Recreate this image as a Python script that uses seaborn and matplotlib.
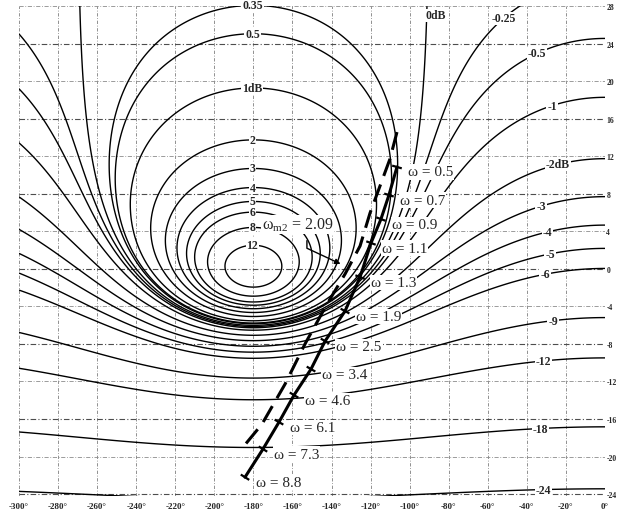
import numpy as np
import pandas as pd
import matplotlib
matplotlib.use("Agg")
import matplotlib.pyplot as plt
import seaborn as sns

sns.set_style("white")
plt.rcParams["font.family"] = ["Liberation Serif", "DejaVu Serif"]
plt.rcParams["mathtext.fontset"] = "custom"
plt.rcParams["mathtext.rm"] = "Liberation Serif"
plt.rcParams["mathtext.it"] = "Liberation Serif:italic"

# Nichols chart axes
phase_ticks = list(range(-300, 1, 20))
gain_ticks = list(range(-24, 29, 4))

# closed-loop magnitude contours (dB)
m_pos_levels = [0.35, 0.5, 1, 2, 3, 4, 5, 6, 8, 12]
m_pos_text = ["0.35", "0.5", "1dB", "2", "3", "4", "5", "6", "8", "12"]
m_neg_levels = [-0.25, -0.5, -1, -2, -3, -4, -5, -6, -9, -12, -18, -24]
m_neg_text = ["-0.25", "-0.5", "-1", "-2dB", "-3", "-4", "-5", "-6", "-9", "-12", "-18", "-24"]
m_neg_text_phase = [-52, -34.8, -27.1, -24.0, -32.7, -29.6, -28.1, -30.7, -26.6, -31.7, -33.2, -31.7]

# open-loop response with frequency marks (solid)
w_marks = [0.5, 0.7, 0.9, 1.1, 1.3, 1.9, 2.5, 3.4, 4.6, 6.1, 7.3, 8.8]
solid_phase = [-106.5, -110.6, -114.7, -119.8, -125.4, -133.1, -143.3, -150.5, -159.2, -166.9, -175.1, -184.3]
solid_gain = [10.85, 7.86, 5.30, 2.75, -0.88, -4.50, -7.70, -10.68, -13.45, -16.33, -19.20, -22.2]

# second response (dashed)
dashed_phase = [-106.5, -110.1, -115.2, -120.3, -125.4, -133.1, -142.3, -153.6, -163.8, -175.6, -185.3]
dashed_gain = [14.57, 11.70, 8.82, 5.94, 2.43, -0.56, -3.75, -8.01, -12.28, -16.54, -18.99]

# resonant frequency of the dashed response
w_m2 = 2.09
w_m2_point = (-134.1, 0.4)

XMIN, XMAX = -300, 0
YMIN, YMAX = -24.2, 28.0

W, H = 617, 510
fig = plt.figure(figsize=(W / 100, H / 100), dpi=100)
ax_left, ax_right, ax_top, ax_bottom = 19, 605, 7, 497
ax = fig.add_axes([ax_left / W, 1 - ax_bottom / H, (ax_right - ax_left) / W, (ax_bottom - ax_top) / H])
ax.set_xlim(XMIN, XMAX)
ax.set_ylim(YMIN, YMAX)
px_deg = (ax_right - ax_left) / (XMAX - XMIN)
px_db = (ax_bottom - ax_top) / (YMAX - YMIN)

# grid
for p in phase_ticks:
    ax.axvline(p, color="0.5", lw=0.6, ls=(0, (4, 2, 1, 2)), zorder=0)
for g in gain_ticks:
    strong = (g % 8 == 0)
    ax.axhline(g, color="0.3" if strong else "0.55", lw=0.8 if strong else 0.6,
               ls=(0, (5, 2, 1, 2)), zorder=0)

# M contours on the open-loop gain/phase plane
ph = np.linspace(-300.0, 0.0, 1501) + 0.013
gd = np.linspace(-26.0, 30.0, 1401) + 0.011
P, GD = np.meshgrid(ph, gd)
G = 10 ** (GD / 20) * np.exp(1j * np.radians(P))
with np.errstate(divide="ignore", invalid="ignore"):
    MDB = 20 * np.log10(np.abs(G / (1 + G)))
MDB = np.clip(np.nan_to_num(MDB, nan=60, posinf=60), -80, 60)
levels = sorted(m_neg_levels + [0] + m_pos_levels)
ax.contour(P, GD, MDB, levels=levels, colors="black", linewidths=1.0,
           linestyles="solid", negative_linestyles="solid", zorder=1)


def contour_gain(m_db, phi):
    M = 10 ** (m_db / 20)
    c = np.cos(np.radians(phi))
    if abs(M - 1) < 1e-9:
        g = -0.5 / c
    elif M < 1:
        g = (M * M * c + M * np.sqrt(M * M * c * c + 1 - M * M)) / (1 - M * M)
    else:
        g = (-M * M * c + M * np.sqrt(M * M * c * c - (M * M - 1))) / (M * M - 1)
    return 20 * np.log10(g)


lab_kw = dict(ha="center", va="center", fontsize=8.5, fontweight="bold", zorder=5,
              bbox=dict(facecolor="white", edgecolor="none", pad=0.6))
for lv, txt in zip(m_pos_levels, m_pos_text):
    ax.text(-180.5, contour_gain(lv, -180.0), txt, **lab_kw)
for lv, txt, phi in zip(m_neg_levels, m_neg_text, m_neg_text_phase):
    ax.text(phi, contour_gain(lv, phi), txt, **lab_kw)
ax.text(-86.5, 27.0, "0dB", **lab_kw)

# responses
solid = pd.DataFrame({"phase": solid_phase, "gain": solid_gain})
dashed = pd.DataFrame({"phase": dashed_phase, "gain": dashed_gain})
sns.lineplot(data=solid, x="phase", y="gain", sort=False, estimator=None,
             color="black", lw=2.2, ax=ax, zorder=3)
sns.lineplot(data=dashed, x="phase", y="gain", sort=False, estimator=None,
             color="black", lw=2.2, ax=ax, zorder=3)
ax.lines[-1].set_dashes((6, 3))

# frequency marks on the solid response
sx = np.array(solid_phase) * px_deg
sy = np.array(solid_gain) * px_db
for i, w in enumerate(w_marks):
    j0, j1 = max(i - 1, 0), min(i + 1, len(w_marks) - 1)
    tx, ty = sx[j1] - sx[j0], sy[j1] - sy[j0]
    n = np.hypot(tx, ty)
    nx, ny = -ty / n, tx / n
    half = 5.0
    ax.plot([solid_phase[i] - nx * half / px_deg, solid_phase[i] + nx * half / px_deg],
            [solid_gain[i] - ny * half / px_db, solid_gain[i] + ny * half / px_db],
            color="black", lw=1.6, zorder=3, solid_capstyle="butt")
    ax.annotate(f"ω = {w}", (solid_phase[i], solid_gain[i]), xytext=(11, -5),
                textcoords="offset pixels", ha="left", va="center", fontsize=11, zorder=6,
                bbox=dict(facecolor="white", edgecolor="none", pad=0.8))

# resonant frequency callout
ax.text(-175.6, 4.7, r"$\mathregular{\omega_{m2}}$ = " + f"{w_m2}", ha="left", va="center",
        fontsize=11.5, zorder=6, bbox=dict(facecolor="white", edgecolor="none", pad=0.6))
ax.annotate("", xy=w_m2_point, xytext=(-152.6, 3.3),
            arrowprops=dict(arrowstyle="-|>", color="black", lw=1.0, mutation_scale=8,
                            connectionstyle="angle,angleA=90,angleB=-25,rad=0"),
            zorder=6)

# axes decoration
for s in ax.spines.values():
    s.set_visible(False)
ax.set_xticks(phase_ticks)
ax.set_xticklabels([f"{p}°" for p in phase_ticks], fontsize=6.5, fontweight="bold")
ax.yaxis.tick_right()
ax.set_yticks(gain_ticks)
ax.set_yticklabels([str(g) for g in gain_ticks], fontsize=5.5, fontweight="bold")
ax.tick_params(axis="x", length=0, pad=4)
ax.tick_params(axis="y", length=0, pad=1)
ax.set_xlabel("")
ax.set_ylabel("")

fig.savefig("out.png", dpi=100)
